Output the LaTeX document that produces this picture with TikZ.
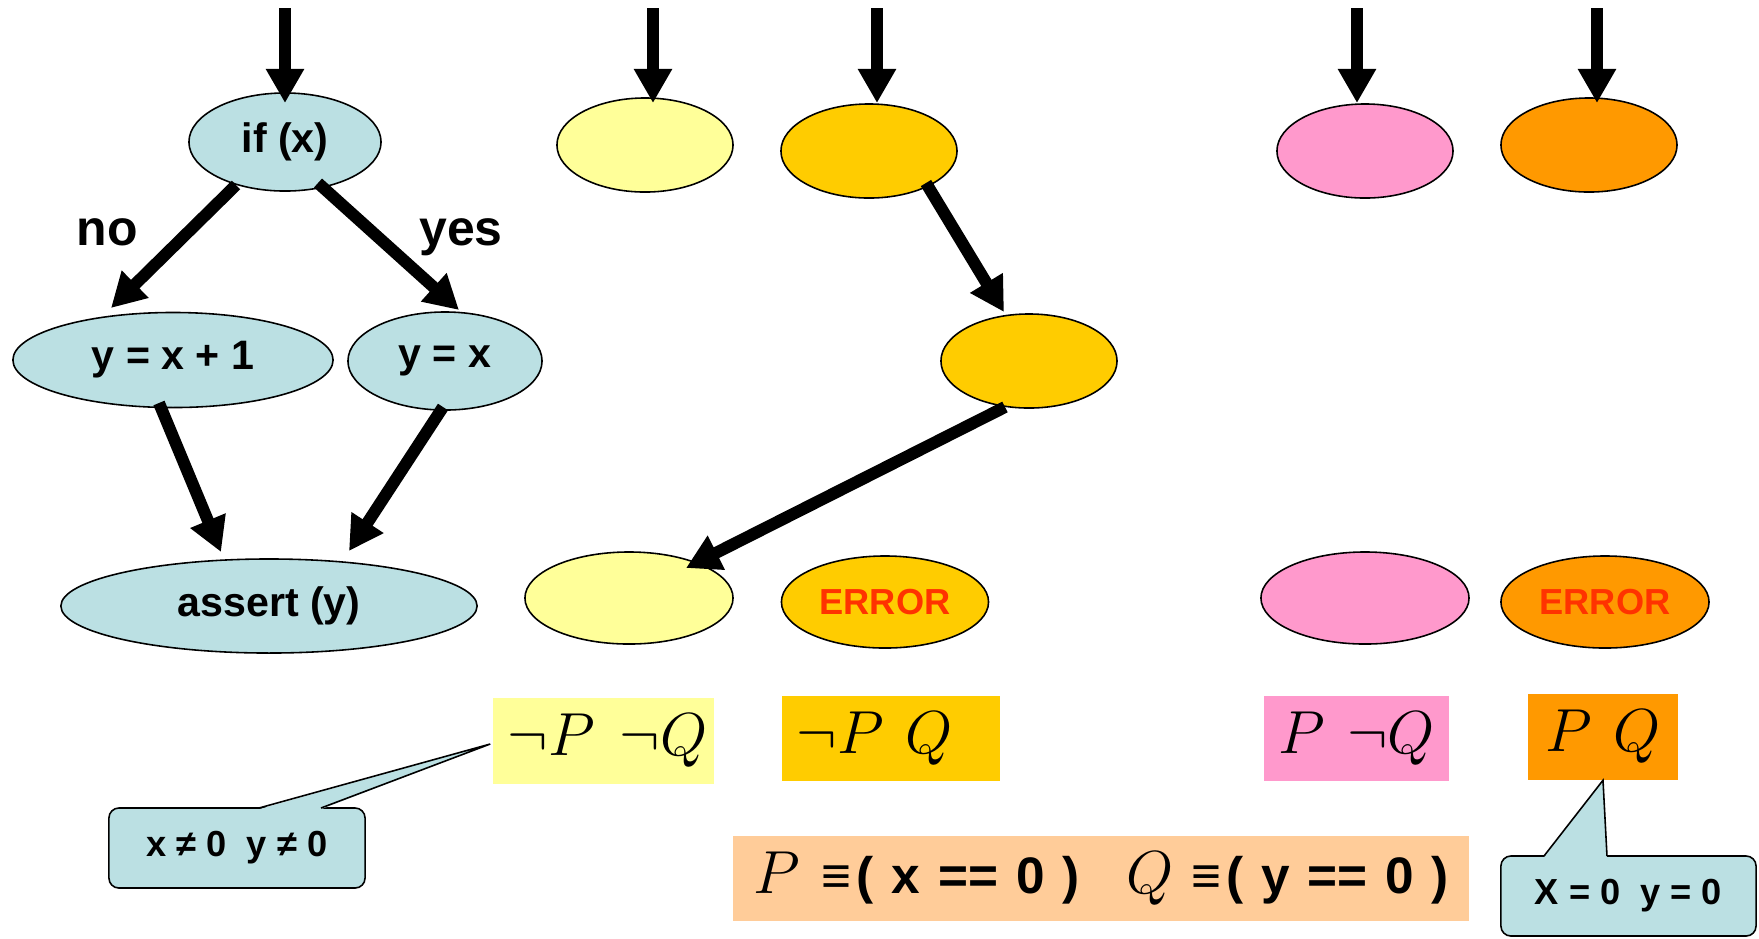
\documentclass[tikz,border=0pt]{standalone}
\usepackage{fontspec}
\setmainfont{Liberation Sans}
\usetikzlibrary{shapes.geometric,arrows.meta,calc}
\definecolor{cblue}{HTML}{BBE0E3}
\definecolor{cyel}{HTML}{FFFF99}
\definecolor{cgold}{HTML}{FFCC00}
\definecolor{cpink}{HTML}{FF99CC}
\definecolor{corange}{HTML}{FF9900}
\definecolor{cpeach}{HTML}{FFCC99}
\definecolor{errred}{HTML}{FF3300}
\begin{document}
\begin{tikzpicture}[x=0.01cm,y=-0.01cm,
  ell/.style={ellipse, draw=black, line width=0.45pt, inner sep=0pt,
    font=\fontsize{11.7}{14}\selectfont\bfseries},
  smallell/.style={ell, minimum width=1.76cm, minimum height=0.94cm},
  lowell/.style={ell, minimum width=2.07cm, minimum height=0.92cm},
  arr/.style={line width=0.12cm, -{Triangle[width=0.36cm,length=0.34cm]}},
  mbox/.style={rectangle, inner sep=0pt, minimum height=0.85cm,
    font=\fontsize{16}{19}\selectfont},
  callbox/.style={rectangle, rounded corners=0.1cm, draw=black, fill=cblue,
    line width=0.45pt, minimum width=2.56cm, minimum height=0.8cm, inner sep=0pt,
    font=\fontsize{10.3}{12}\selectfont\bfseries},
  lbl/.style={font=\fontsize{14.2}{17}\selectfont\bfseries, inner sep=0pt, anchor=base}
]
\useasboundingbox (0,0) rectangle (1759,938);

% ---- left flow graph ----
\node[ell, fill=cblue, minimum width=1.92cm, minimum height=0.98cm] (ifx) at (285,142) {if (x)};
\node[ell, fill=cblue, minimum width=3.20cm, minimum height=0.95cm] (yx1) at (173,360) {y = x + 1};
\node[ell, fill=cblue, minimum width=1.94cm, minimum height=0.98cm] (yx) at (445,361) {y = x};
\node[ell, fill=cblue, minimum width=4.16cm, minimum height=0.94cm] (asrt) at (269,606) {assert (y)};
\node[lbl] (no) at (107,245) {no};
\node[lbl] (yes) at (461,245) {yes};

% ---- top row ----
\node[smallell, fill=cyel] (y1) at (645,145) {};
\node[smallell, fill=cgold] (g1) at (869,151) {};
\node[smallell, fill=cgold] (g2) at (1029,361) {};
\node[smallell, fill=cpink] (p1) at (1365,151) {};
\node[smallell, fill=corange] (o1) at (1589,145) {};

% ---- bottom row ----
\node[lowell, fill=cyel, minimum width=2.08cm] (y2) at (629,598) {};
\node[lowell, fill=cgold] (g3) at (885,602) {\textcolor{errred}{\fontsize{10.3}{12}\selectfont ERROR}};
\node[lowell, fill=cpink, minimum width=2.08cm] (p2) at (1365,598) {};
\node[lowell, fill=corange, minimum width=2.08cm] (o2) at (1605,602) {\textcolor{errred}{\fontsize{10.3}{12}\selectfont ERROR}};

% ---- condition boxes ----
\node[mbox, fill=cyel, minimum width=2.21cm] (by) at (603.5,741) {\kern0.08cm$\neg P\hspace{0.25cm}\neg Q$};
\node[mbox, fill=cgold, minimum width=2.18cm] (bg) at (891,738.5) {$\neg P\hspace{0.22cm}Q$\kern0.32cm};
\node[mbox, fill=cpink, minimum width=1.85cm] (bp) at (1356.5,738.5) {$P\hspace{0.22cm}\neg Q$};
\node[mbox, fill=corange, minimum width=1.50cm] (bo) at (1603,737) {$P\hspace{0.22cm}Q$};
\node[mbox, fill=cpeach, minimum width=7.36cm, font=\fontsize{14.6}{17}\selectfont\bfseries] (pq) at (1101,878.5)
  {{\fontsize{16}{19}\selectfont$P$}\hspace{0.22cm}≡\hspace{0.05cm}(\hspace{0.18cm}x\hspace{0.18cm}==\hspace{0.18cm}0\hspace{0.17cm})\hspace{0.47cm}{\fontsize{16}{19}\selectfont$Q$}\hspace{0.18cm}≡\hspace{0.05cm}(\hspace{0.18cm}y\hspace{0.18cm}==\hspace{0.18cm}0\hspace{0.17cm})};

% ---- callouts ----
\node[callbox] (c1) at (237,848) {x ≠ 0\hspace{0.2cm}y ≠ 0};
\fill[cblue] (259,809.2) -- ($(by.west)+(-2,3)$) -- (321,809.2) -- cycle;
\draw[line width=0.45pt] (259,808) -- ($(by.west)+(-2,3)$) -- (321,808);

\node[callbox, minimum width=2.55cm] (c2) at (1628.5,896) {X = 0\hspace{0.2cm}y = 0};
\fill[cblue] (1544,857.2) -- (bo.south) -- (1607,857.2) -- cycle;
\draw[line width=0.45pt] (1544,856) -- (bo.south) -- (1607,856);

% ---- entry arrows ----
\coordinate (s1) at (285,8);
\coordinate (s2) at (653,8);
\coordinate (s3) at (877,8);
\coordinate (s4) at (1357,8);
\coordinate (s5) at (1597,8);
\draw[arr] (s1) -- ($(ifx)+(0,-39)$);
\draw[arr] (s2) -- ($(y1)+(8,-42)$);
\draw[arr] (s3) -- ($(g1)+(8,-48)$);
\draw[arr] (s4) -- ($(p1)+(-8,-48)$);
\draw[arr] (s5) -- ($(o1)+(8,-42)$);

% ---- flow arrows ----
\draw[arr] ($(ifx)+(-49,43)$) -- ($(yx1)+(-62,-52)$);
\draw[arr] ($(ifx)+(33,41)$) -- ($(yx)+(14,-51)$);
\draw[arr] ($(yx1)+(-14,43)$) -- ($(asrt)+(-48,-54)$);
\draw[arr] ($(yx)+(-2,46)$) -- ($(asrt)+(80,-55)$);
\draw[arr] ($(g1)+(57,32)$) -- ($(g2)+(-25,-49)$);
\draw[arr] ($(g2)+(-24,46)$) -- ($(y2)+(57,-30)$);
\end{tikzpicture}
\end{document}
